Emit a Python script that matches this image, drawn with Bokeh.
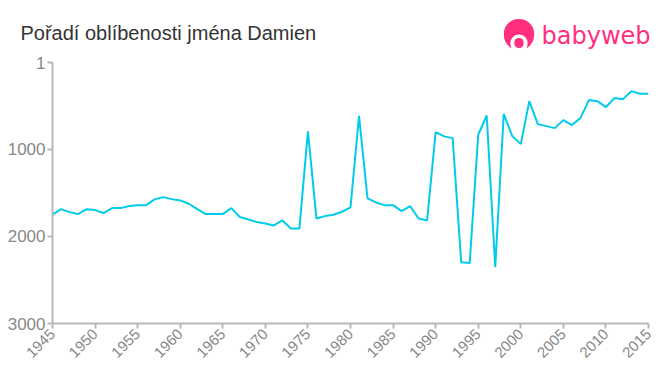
import numpy as np
from bokeh.plotting import figure
from bokeh.models import Range1d, FixedTicker, Label
from bokeh.embed import file_html
from bokeh.resources import INLINE

years = list(range(1945, 2016))
ranks = [1750, 1686, 1720, 1743, 1686, 1697, 1731, 1674, 1674, 1651,
         1640, 1640, 1574, 1548, 1571, 1586, 1624, 1686, 1743, 1743,
         1743, 1674, 1777, 1804, 1835, 1850, 1873, 1816, 1908, 1908,
         793, 1793, 1766, 1750, 1716, 1666, 615, 1563, 1609, 1640,
         1640, 1708, 1651, 1793, 1816, 800, 850, 870, 2295, 2306,
         831, 610, 2352, 591, 847, 939, 445, 709, 732, 755,
         663, 720, 640, 433, 445, 513, 410, 422, 330, 360,
         360]
x_ticks = list(range(1945, 2016, 5))
y_ticks = [1, 1000, 2000, 3000]
title_text = "Pořadí oblíbenosti jména Damien"
logo_text = "babyweb"

W, H = 660, 375
L, R, T, B = 52, 12, 62, 52
PINK = "#ff2e7e"

p = figure(width=W, height=H, output_backend="svg", toolbar_location=None,
           x_range=Range1d(1945, 2015), y_range=Range1d(3000, 1),
           min_border_left=L, min_border_right=R, min_border_top=T, min_border_bottom=B)
p.outline_line_color = None
p.grid.visible = False
p.background_fill_color = "white"
p.border_fill_color = "white"

p.line(years, ranks, line_color="#00ccea", line_width=2)

for ax in (p.xaxis[0], p.yaxis[0]):
    ax.axis_line_color = "#b8b8b8"
    ax.axis_line_width = 2
    ax.major_tick_line_color = "#b8b8b8"
    ax.major_tick_line_width = 2
    ax.major_tick_out = 5
    ax.major_tick_in = 0
    ax.minor_tick_line_color = None
    ax.major_label_text_color = "#888888"
    ax.major_label_text_font = "Liberation Sans"

p.xaxis.ticker = FixedTicker(ticks=x_ticks)
p.yaxis.ticker = FixedTicker(ticks=y_ticks)
p.xaxis.major_label_orientation = np.pi / 4
p.xaxis.major_label_text_font_size = "15px"
p.yaxis.major_label_text_font_size = "17px"
p.yaxis.major_label_standoff = 2
p.xaxis.major_label_standoff = 3

p.add_layout(Label(x=20, y=32, x_units="canvas", y_units="canvas",
                   text=title_text, text_font="Liberation Sans",
                   text_font_size="20px", text_color="#333333",
                   text_baseline="alphabetic"), "above")
p.add_layout(Label(x=541, y=35, x_units="canvas", y_units="canvas",
                   text=logo_text, text_font="DejaVu Sans",
                   text_font_size="24px", text_color=PINK,
                   text_baseline="alphabetic"), "above")

# logo icon (decoration): round blobs drawn as thick round-joined label borders
for (cx, cy, r, c) in [(518.5, 34, 15, PINK), (518.5, 43, 8.5, "white"), (518.5, 42.5, 4.5, PINK)]:
    p.add_layout(Label(x=cx, y=cy, x_units="canvas", y_units="canvas",
                       text=" ", text_font_size="1px", text_align="center",
                       text_baseline="middle", padding=0,
                       background_fill_color=c, background_fill_alpha=1,
                       border_line_color=c, border_line_width=2 * r,
                       border_line_join="round"), "above")

open("out.html", "w").write(file_html(p, INLINE))
